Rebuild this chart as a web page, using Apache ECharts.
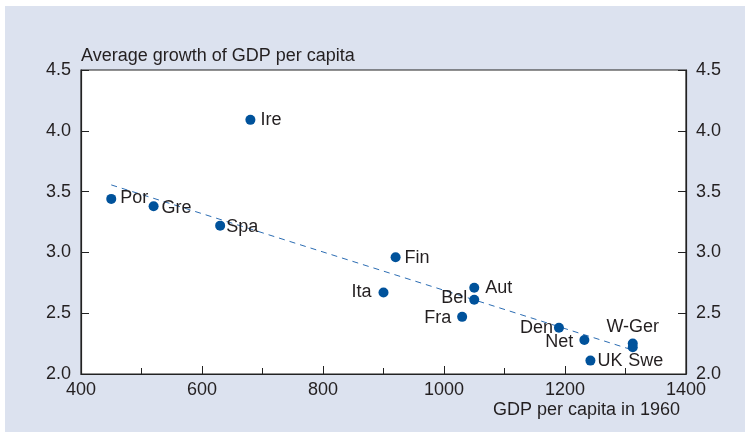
<!DOCTYPE html>
<html>
<head>
<meta charset="utf-8">
<script src="https://cdn.jsdelivr.net/npm/echarts@6/dist/echarts.min.js"></script>
<style>
  html, body { margin: 0; padding: 0; background: #fff; }
  #chart { width: 750px; height: 433px; }
</style>
</head>
<body>
<div id="chart"></div>
<script>
// countries and their values
const countries = ['Por', 'Gre', 'Spa', 'Ire', 'Fin', 'Ita', 'Aut', 'Bel', 'Fra', 'Den', 'Net', 'UK', 'W-Ger', 'Swe'];
const gdp1960 = [450, 520, 630, 680, 920, 900, 1050, 1050, 1030, 1190, 1232, 1242, 1312, 1312];
const growth = [3.44, 3.38, 3.22, 4.09, 2.96, 2.67, 2.71, 2.61, 2.47, 2.38, 2.28, 2.11, 2.25, 2.22];

// fitted trend line ends
const trendX = [450, 1310];
const trendY = [3.555, 2.2];

const xTicks = [400, 600, 800, 1000, 1200, 1400];
const yTicks = [2.0, 2.5, 3.0, 3.5, 4.0, 4.5];

const BLUE = '#00529b';
const TEXT = '#231f20';
const FONT = '"Liberation Sans", Arial, sans-serif';

// where each label sits relative to its dot
const labelPos = {
  'Por': { position: 'right', offset: [-1, -1] },
  'Gre': { position: 'right', offset: [-2, 2] },
  'Spa': { position: 'right', offset: [-4, 1] },
  'Ire': { position: 'right', offset: [0, 0] },
  'Fin': { position: 'right', offset: [-1, 1] },
  'Ita': { position: 'left', offset: [-2, 0] },
  'Aut': { position: 'right', offset: [1, 0] },
  'Bel': { position: 'left', offset: [3, -2] },
  'Fra': { position: 'left', offset: [-1, 1] },
  'Den': { position: 'left', offset: [4, 0] },
  'Net': { position: 'left', offset: [-1, 2] },
  'UK': { position: 'right', offset: [-3, 0] },
  'W-Ger': { position: 'top', offset: [0, 2] },
  'Swe': { position: 'bottom', offset: [13, -5] }
};

const points = countries.map((c, i) => ({
  name: c,
  value: [gdp1960[i], growth[i]],
  label: Object.assign({ show: true, formatter: c }, labelPos[c])
}));

const chart = echarts.init(document.getElementById('chart'));

chart.setOption({
  animation: false,
  backgroundColor: '#fff',
  textStyle: { fontFamily: FONT },
  graphic: [
    {
      type: 'rect',
      z: -100,
      silent: true,
      shape: { x: 5, y: 6, width: 740, height: 426 },
      style: { fill: '#dce2ef' }
    },
    {
      type: 'text',
      left: 81,
      top: 47,
      style: { text: 'Average growth of GDP per capita', fill: TEXT, font: '18px ' + FONT }
    },
    {
      type: 'text',
      right: 70,
      top: 401,
      style: { text: 'GDP per capita in 1960', fill: TEXT, font: '18px ' + FONT }
    }
  ],
  grid: {
    left: 81, right: 64, top: 70, bottom: 59,
    show: true,
    backgroundColor: '#fff',
    borderColor: '#222',
    borderWidth: 1.2
  },
  xAxis: {
    type: 'value',
    min: 400, max: 1400, interval: 200,
    axisLine: { show: true, lineStyle: { color: '#222', width: 1.2 } },
    axisTick: { show: true, inside: true, length: 8, lineStyle: { color: '#222' } },
    minorTick: { show: true, splitNumber: 2, length: 6, lineStyle: { color: '#222' } },
    splitLine: { show: false },
    axisLabel: {
      color: TEXT, fontSize: 18, margin: 7,
      formatter: v => xTicks.includes(v) ? String(v) : ''
    }
  },
  yAxis: [
    {
      type: 'value', position: 'left',
      min: 2, max: 4.5, interval: 0.5,
      axisLine: { show: true, lineStyle: { color: '#222', width: 1.2 } },
      axisTick: { show: true, inside: true, length: 8, lineStyle: { color: '#222' } },
      splitLine: { show: false },
      axisLabel: {
        color: TEXT, fontSize: 18, margin: 10,
        formatter: v => yTicks.includes(v) ? v.toFixed(1) : ''
      }
    },
    {
      type: 'value', position: 'right',
      min: 2, max: 4.5, interval: 0.5,
      axisLine: { show: true, lineStyle: { color: '#222', width: 1.2 } },
      axisTick: { show: true, inside: true, length: 8, lineStyle: { color: '#222' } },
      splitLine: { show: false },
      axisLabel: {
        color: TEXT, fontSize: 18, margin: 10,
        formatter: v => yTicks.includes(v) ? v.toFixed(1) : ''
      }
    }
  ],
  series: [
    {
      type: 'line',
      data: trendX.map((x, i) => [x, trendY[i]]),
      symbol: 'none',
      lineStyle: { color: '#2c6db3', width: 1, type: [6, 5] },
      z: 1
    },
    {
      type: 'scatter',
      data: points,
      symbol: 'circle',
      symbolSize: 10,
      itemStyle: { color: BLUE, opacity: 1 },
      label: { color: TEXT, fontSize: 18, distance: 5 },
      z: 2
    }
  ]
});
</script>
</body>
</html>
